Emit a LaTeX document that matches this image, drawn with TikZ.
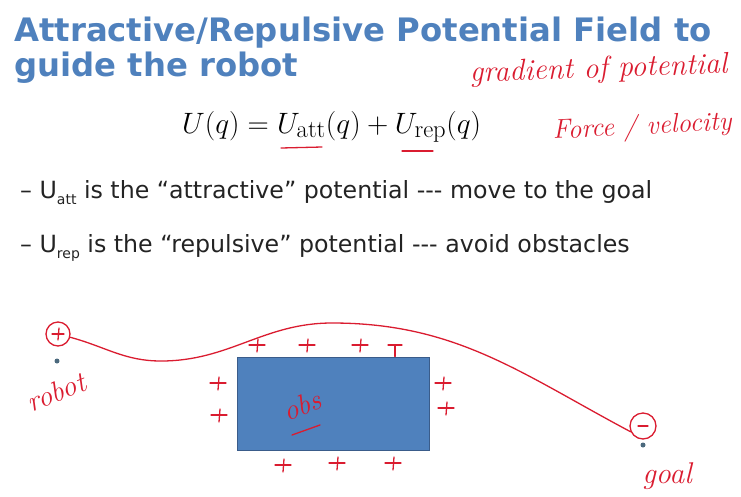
\documentclass[tikz,border=0pt]{standalone}
\usepackage{fontspec}
\newfontfamily\slidefont{DejaVu Sans}
\definecolor{titleblue}{RGB}{79,129,189}
\definecolor{inkred}{RGB}{218,28,48}
\definecolor{obsfill}{RGB}{79,129,189}
\definecolor{obsline}{RGB}{58,92,138}
\definecolor{dotc}{RGB}{75,105,125}
\definecolor{txt}{RGB}{35,35,35}
\tikzset{
  titletext/.style={anchor=base west, inner sep=0, text=titleblue, font=\slidefont\bfseries\fontsize{32.3}{36}\selectfont},
  bullettext/.style={anchor=base west, inner sep=0, text=txt, font=\slidefont\fontsize{23.7}{28}\selectfont},
  hand/.style={inner sep=0, text=inkred, font=\itshape},
  pen/.style={draw=inkred, line width=1.3pt, line cap=round, line join=round},
  penring/.style={circle, draw=inkred, line width=1.3pt, minimum size=24pt, inner sep=0},
  markdot/.style={circle, fill=dotc, inner sep=0, minimum size=5pt},
  obstacle/.style={draw=obsline, line width=1pt, fill=obsfill, minimum width=192pt, minimum height=93pt, inner sep=0},
  plusmark/.pic={\draw[pen] (-8,0) -- (8,0); \draw[pen] (1,6) -- (0,-7);}
}
\begin{document}
\begin{tikzpicture}[x=1pt,y=1pt]
\useasboundingbox (0,0) rectangle (741,-496);
% title
\node[titletext] (t1) at (14,-41) {Attractive/Repulsive Potential Field to};
\node[titletext] (t2) at (14,-76) {guide the robot};
% equation
\node[anchor=base west, inner sep=0, font=\fontsize{24.88}{30}\selectfont] (eq) at (182,-133)
  {\scalebox{1.184}{$U(q) = U_{\mathrm{att}}(q) + U_{\mathrm{rep}}(q)$}};
\draw[pen] (281,-148) -- (322,-147);
\draw[pen] (402,-151) -- (433,-151);
% handwritten notes
\node[hand, font=\itshape\fontsize{30}{30}\selectfont, rotate=2, anchor=base west] (grad) at (470,-82) {gradient of potential};
\node[hand, font=\itshape\fontsize{27}{27}\selectfont, rotate=3, anchor=base west] (force) at (553,-139) {Force / velocity};
% bullets
\node[bullettext] (b1) at (20,-198) {– U\raisebox{-0.28em}{\fontsize{14}{14}\selectfont att} is the “attractive” potential --- move to the goal};
\node[bullettext] (b2) at (20,-252) {– U\raisebox{-0.28em}{\fontsize{14}{14}\selectfont rep} is the “repulsive” potential --- avoid obstacles};
% obstacle
\node[obstacle] (obs) at (333,-403.5) {};
\node[hand, font=\itshape\fontsize{29}{29}\selectfont, rotate=20] (obslabel) at (302,-405) {obs};
\draw[pen] (292,-435) -- (320,-425);
% plus charges around the obstacle
\pic at (257,-345) {plusmark};
\pic at (307,-345) {plusmark};
\pic at (360,-345) {plusmark};
\draw[pen] (388,-345) -- (402,-345);
\draw[pen] (395,-345) -- (obs.north -| 395,0);
\pic at (218,-383) {plusmark};
\pic at (219,-415) {plusmark};
\pic at (443,-383) {plusmark};
\pic at (446,-408) {plusmark};
\pic at (283,-465) {plusmark};
\pic at (337,-463) {plusmark};
\pic at (393,-463) {plusmark};
% robot
\node[penring] (robotc) at (58,-334) {};
\draw[pen] (robotc.center) ++(-6,0) -- ++(12,0);
\draw[pen] (robotc.center) ++(1,6) -- ++(-1,-12);
\node[markdot] (robotdot) at (57,-361) {};
\node[hand, font=\itshape\fontsize{29}{29}\selectfont, rotate=22] (robotlabel) at (56,-392) {robot};
% goal
\node[penring, minimum width=26pt] (goalc) at (643,-426) {};
\draw[pen] (goalc.center) ++(-5,0) -- ++(10,0);
\node[markdot] (goaldot) at (643,-445) {};
\node[hand, font=\itshape\fontsize{30}{30}\selectfont] (goallabel) at (667,-476) {goal};
% path
\coordinate (dip) at (161,-361);
\coordinate (crest) at (332,-323);
\draw[pen] (robotc.-15) to[out=-15,in=180] (dip) to[out=0,in=180] (crest) to[out=0,in=152] (goalc.205);
\end{tikzpicture}
\end{document}
